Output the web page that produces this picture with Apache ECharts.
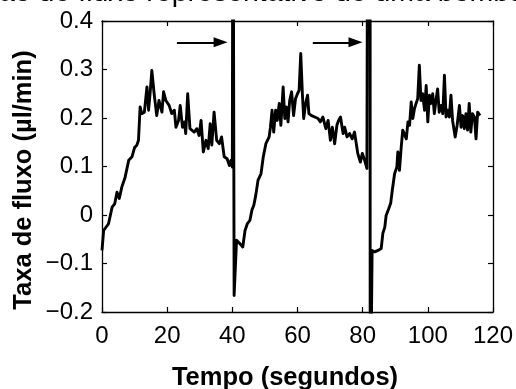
<!DOCTYPE html>
<html><head><meta charset="utf-8">
<script src="https://cdn.jsdelivr.net/npm/echarts@6/dist/echarts.min.js"></script>
<style>html,body{margin:0;padding:0;background:#fff}#c{width:516px;height:389px}</style>
</head><body><div id="c"></div>
<script>
// time (s)
const timeSec = [
0,0.5,2.0,3.1,3.9,4.6,5.3,6.1,7.1,8.2,9.2,10.0,10.7,11.2,11.7,12.2,13.0,13.8,14.3,14.8,15.3,16.0,16.8,17.5,18.4,18.9,19.6,20.6,21.4,22.2,22.7,23.5,24.0,24.7,25.3,25.7,26.3,27.0,28.3,29.1,29.8,30.4,31.1,31.9,32.6,33.2,33.7,34.4,35.2,36.0,36.7,37.5,38.4,39.1,39.6,40.0,
40.2,40.5,40.55,
41.3,42.3,43.2,43.9,44.6,45.4,46.0,46.6,47.2,47.9,48.8,49.5,50.3,51.3,51.7,52.2,52.7,53.3,53.8,54.4,54.9,55.6,56.1,56.6,57.1,57.6,58.2,58.8,59.4,60.0,60.5,61.0,61.5,61.9,62.5,63.1,63.5,64.3,65.3,66.3,67.0,67.8,68.7,69.4,70.1,70.7,71.4,72.1,72.6,73.2,74.0,74.5,75.2,76.0,76.8,77.5,78.0,78.5,79.3,79.9,80.6,81.3,
81.6,82.3,82.3,82.9,
82.9,83.7,84.7,85.7,86.2,86.8,87.2,88.0,88.6,89.1,89.8,90.5,90.8,91.3,91.8,92.3,92.8,93.4,93.9,94.4,94.9,95.4,95.9,96.4,96.9,97.4,97.9,98.4,99.0,99.5,100.0,100.5,101.0,101.5,102.0,102.5,103.0,103.5,104.1,104.6,105.1,105.6,106.1,106.6,107.1,107.6,108.4,109.0,109.7,110.2,110.7,111.2,111.7,112.2,112.7,113.2,113.7,114.3,114.8,115.3,116.0
];
// flow rate (µl/min)
const flowRate = [
-0.073,-0.032,-0.018,0.016,0.023,0.047,0.034,0.058,0.078,0.113,0.12,0.139,0.144,0.154,0.223,0.209,0.212,0.264,0.216,0.254,0.298,0.25,0.205,0.236,0.212,0.254,0.236,0.226,0.209,0.216,0.181,0.195,0.226,0.181,0.192,0.168,0.25,0.178,0.171,0.178,0.164,0.195,0.13,0.154,0.137,0.188,0.144,0.212,0.154,0.147,0.161,0.12,0.116,0.102,0.113,0.099,
0.9,0.9,-0.166,
-0.052,-0.059,-0.066,-0.032,-0.018,-0.011,0.010,0.020,0.041,0.072,0.085,0.12,0.147,0.161,0.181,0.216,0.171,0.216,0.195,0.23,0.185,0.264,0.199,0.223,0.192,0.236,0.254,0.205,0.24,0.25,0.257,0.333,0.25,0.199,0.23,0.247,0.209,0.205,0.202,0.199,0.192,0.202,0.178,0.195,0.154,0.181,0.147,0.185,0.195,0.202,0.168,0.181,0.161,0.168,0.157,0.171,0.168,0.127,0.109,0.127,0.113,0.096,
0.9,0.9,-0.5,-0.5,
-0.073,-0.076,-0.073,-0.069,-0.038,-0.025,-0.001,0.013,0.024,0.051,0.085,0.099,0.13,0.092,0.137,0.175,0.178,0.157,0.192,0.185,0.233,0.199,0.219,0.23,0.24,0.309,0.236,0.25,0.216,0.267,0.192,0.247,0.23,0.25,0.209,0.236,0.26,0.212,0.226,0.209,0.288,0.202,0.216,0.202,0.247,0.195,0.161,0.185,0.226,0.181,0.205,0.178,0.209,0.175,0.23,0.171,0.209,0.202,0.157,0.212,0.205
];
const xTicks = [0, 20, 40, 60, 80, 100, 120];
const yTicks = [-0.2, -0.1, 0, 0.1, 0.2, 0.3, 0.4];
// arrows marking the pulses: [startTime, endTime, level]
const arrowStart = [23.0, 64.7];
const arrowEnd = [36.4, 77.8];
const arrowLevel = [0.356, 0.356];

const titleText = 'ão de fluxo representativo de uma bomba';
const xTitle = 'Tempo (segundos)';
const yTitle = 'Taxa de fluxo (µl/min)';

const FONT = '"Liberation Sans", Arial, Helvetica, sans-serif';
const seriesData = timeSec.map((t, i) => [t, flowRate[i]]);

function yFmt(v) {
  const r = Math.round(v * 10) / 10;
  if (r === 0) return '0';
  return (r < 0 ? '\u2212' : '') + Math.abs(r).toFixed(1);
}

const axisCommon = {
  axisLine: { show: true, onZero: false, lineStyle: { color: '#000', width: 1.3 } },
  axisTick: { show: true, inside: true, length: 5, lineStyle: { color: '#000', width: 1.2 } },
  splitLine: { show: false }
};

const chart = echarts.init(document.getElementById('c'), null, { renderer: 'canvas' });
chart.setOption({
  animation: false,
  backgroundColor: '#fff',
  grid: { left: 102, right: 23, top: 21, bottom: 77, containLabel: false },
  xAxis: [
    Object.assign({ type: 'value', position: 'bottom', min: xTicks[0], max: xTicks[xTicks.length - 1], interval: 20,
      axisLabel: { show: true, color: '#000', fontSize: 24, fontFamily: FONT, margin: 12,
        formatter: v => String(v) } }, axisCommon),
    Object.assign({ type: 'value', position: 'top', min: xTicks[0], max: xTicks[xTicks.length - 1], interval: 20,
      axisLabel: { show: false } }, axisCommon)
  ],
  yAxis: [
    Object.assign({ type: 'value', position: 'left', min: yTicks[0], max: yTicks[yTicks.length - 1], interval: 0.1,
      axisLabel: { show: true, color: '#000', fontSize: 24, fontFamily: FONT, margin: 9, formatter: yFmt } }, axisCommon),
    Object.assign({ type: 'value', position: 'right', min: yTicks[0], max: yTicks[yTicks.length - 1], interval: 0.1,
      axisLabel: { show: false } }, axisCommon)
  ],
  series: [{
    type: 'line',
    xAxisIndex: 0, yAxisIndex: 0,
    data: seriesData,
    showSymbol: false,
    symbol: 'none',
    clip: true,
    lineStyle: { color: '#000', width: 2.9, join: 'round' },
    markLine: {
      silent: true,
      symbol: ['none', 'triangle'],
      symbolSize: [10, 14],
      label: { show: false },
      lineStyle: { color: '#000', width: 2, type: 'solid' },
      data: arrowStart.map((s, i) => [
        { coord: [s, arrowLevel[i]] },
        { coord: [arrowEnd[i], arrowLevel[i]] }
      ])
    }
  }],
  graphic: [
    { type: 'text', x: -1, y: -7, silent: true,
      style: { text: titleText, font: '28.5px ' + FONT, fill: '#000', align: 'left', verticalAlign: 'middle' } },
    { type: 'text', x: 285, y: 378, silent: true,
      style: { text: xTitle, font: 'bold 25.5px ' + FONT, fill: '#000', align: 'center', verticalAlign: 'middle' } },
    { type: 'text', x: 24, y: 180, rotation: Math.PI / 2, silent: true,
      style: { text: yTitle, font: 'bold 25.5px ' + FONT, fill: '#000', align: 'center', verticalAlign: 'middle' } }
  ]
});
</script>
</body></html>
